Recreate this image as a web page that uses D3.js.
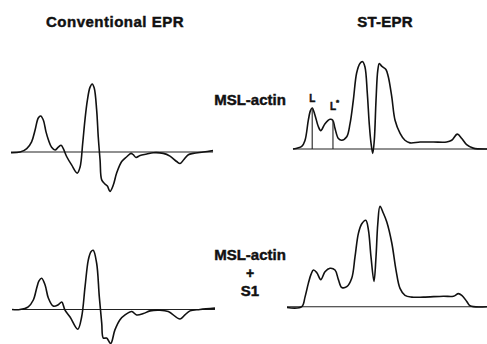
<!DOCTYPE html>
<html>
<head>
<meta charset="utf-8">
<script src="https://cdn.jsdelivr.net/npm/d3@7"></script>
<style>
  body { margin: 0; background: #fff; }
  text { font-family: "Liberation Sans", Arial, sans-serif; font-weight: bold; fill: #111; stroke: #111; stroke-width: 0.45px; }
</style>
</head>
<body>
<script>
((() => {

// field position (0-100, arbitrary units) and relative signal
let convTopField = [0, 4.5, 7.8, 10.2, 11.9, 13.5, 14.7, 16, 17.3, 18.5, 20.1, 21.8, 23.4, 24.8, 25.9, 27.6, 30, 32.8, 34.2, 35.5, 36.6, 37.8, 39.1, 40.2, 41.2, 42.4, 43.2, 44.1, 44.9, 46.5, 47.7, 49, 50.6, 52.3, 54.8, 57.3, 59.4, 60.5, 61.9, 63.9, 67.2, 70.4, 75.4, 78.7, 82, 83.7, 85.6, 87.8, 90.2, 95.2, 100];
let convTopSignal = [-1, 0, 5, 15, 32, 50, 53, 47, 30, 18, 7, 3, 7, 10, 5, -7, -19, -31, -22, 13, 47, 76, 95, 100, 94, 62, 22, -12, -41, -47, -50, -58, -49, -31, -14, -7, -2, -4, -8, -5, -3, -1, -2, -6, -14, -17, -11, -4, -2, 0, 2];

let convBotField = [0, 3.9, 8, 10.5, 12.2, 13.3, 14.6, 16.3, 17.9, 20.3, 22.8, 24.5, 26.1, 28.6, 32.4, 34.3, 36, 37.6, 38.9, 40, 41.7, 43, 44.2, 45, 46.6, 48.6, 50.7, 53.2, 55.7, 59, 61.4, 64.7, 68, 72.9, 77, 82.8, 85.2, 87.7, 92.6, 100];
let convBotSignal = [0, 0, 4, 14, 32, 42, 46, 36, 17, 5, 7, 11, -1, -11, -29, -11, 34, 73, 85, 87, 68, 19, -20, -42, -42, -50, -30, -15, -8, -3, -8, -6, -2, -1, -3, -14, -8, -2, 0, 2];

let stTopField = [0, 4.5, 6.2, 7.9, 9, 9.9, 11.3, 13, 14.3, 16.5, 19.1, 20.5, 21.6, 23.4, 25.1, 27.7, 29.4, 31.1, 32.8, 34.5, 35.9, 37.1, 38.3, 39.3, 40.2, 41.1, 41.9, 42.8, 43.7, 44.5, 45.7, 47.9, 49.1, 50.9, 52.6, 55.2, 57.7, 60.3, 65.5, 72.3, 79.2, 81.8, 84.7, 87, 89.5, 92.9, 100];
let stTopSignal = [0, 3, 10, 33, 44, 47, 39, 26, 21, 29, 34, 33, 24, 12, 10, 14, 29, 56, 87, 98, 100, 94, 64, 29, 7, -5, 10, 56, 90, 98, 95, 91, 83, 60, 33, 18, 10, 7, 8, 8, 8, 10, 17, 12, 5, 1, 0];

let stBotField = [0, 7.4, 9, 10.7, 12, 13.2, 14.9, 16.9, 19, 21.5, 24, 25.7, 27.4, 29.9, 32.4, 34, 35.7, 37.4, 39.4, 40.7, 42, 43.5, 44.5, 45.4, 46.5, 48.2, 49.9, 52.4, 54.5, 56.5, 59, 62.4, 68.2, 78.2, 83.2, 85.7, 87.4, 89.9, 91.5, 100];
let stBotSignal = [-1, 0, 11, 27, 37, 42, 39, 31, 40, 44, 42, 31, 22, 23, 33, 57, 84, 95, 99, 88, 57, 29, 57, 95, 115, 107, 97, 73, 42, 21, 13, 11, 11, 12, 12, 15, 13, 6, 1, 0];

// marked peaks on the MSL-actin ST-EPR spectrum
let peakNames = ['L', 'L*'];
let peakField = [9.9, 20.6];

let headings = ['Conventional EPR', 'ST-EPR'];
let sampleTop = ['MSL-actin'];
let sampleBot = ['MSL-actin', '+', 'S1'];

let width = 487, height = 344;

let svg = d3.select('body')
  .append('svg')
    .attr('width', width)
    .attr('height', height);

function zip(f, s) {
  return f.map((d, i) => ({x: d, y: s[i]}));
}

// each panel: pixel extent of its baseline and its scale for the signal
function drawPanel(field, signal, x0, x1, base, pxPerUnit) {
  let x = d3.scaleLinear().domain([0, 100]).range([x0, x1]);
  let y = d3.scaleLinear().domain([0, 100]).range([base, base - 100 * pxPerUnit]);

  let g = svg.append('g');

  g.append('line')
    .attr('x1', x(0)).attr('x2', x(100))
    .attr('y1', y(0)).attr('y2', y(0))
    .attr('stroke', '#222')
    .attr('stroke-width', 1.1);

  let line = d3.line()
    .x(d => x(d.x))
    .y(d => y(d.y))
    .curve(d3.curveCatmullRom.alpha(0.5));

  g.append('path')
    .datum(zip(field, signal))
    .attr('d', line)
    .attr('fill', 'none')
    .attr('stroke', '#111')
    .attr('stroke-width', 1.6)
    .attr('stroke-linejoin', 'round');

  return {x: x, y: y, g: g};
}

drawPanel(convTopField, convTopSignal, 11, 213, 152, 0.68);
drawPanel(convBotField, convBotSignal, 12, 215, 309.5, 0.68);
let stTop = drawPanel(stTopField, stTopSignal, 293, 487, 149, 0.873);
drawPanel(stBotField, stBotSignal, 287, 487, 306.7, 0.873);

// L and L* markers: vertical line from the curve down to the baseline
let interp = d3.scaleLinear().domain(stTopField).range(stTopSignal);
peakField.forEach(f => {
  stTop.g.append('line')
    .attr('x1', stTop.x(f)).attr('x2', stTop.x(f))
    .attr('y1', stTop.y(interp(f))).attr('y2', stTop.y(0))
    .attr('stroke', '#222')
    .attr('stroke-width', 1.1);
});

// peak labels
svg.append('text')
  .attr('x', stTop.x(peakField[0]))
  .attr('y', 102)
  .attr('text-anchor', 'middle')
  .style('font-size', '10px')
  .text(peakNames[0]);

let lstar = svg.append('text')
  .attr('x', stTop.x(peakField[1]) - 3)
  .attr('y', 110)
  .style('font-size', '10px');
lstar.append('tspan').text(peakNames[1][0]);
lstar.append('tspan')
  .attr('dy', -5)
  .style('font-size', '8px')
  .text(peakNames[1].slice(1));

// column headings
svg.selectAll('text.head')
  .data(headings)
  .enter()
  .append('text')
    .attr('class', 'head')
    .attr('x', (d, i) => i === 0 ? 115 : 385)
    .attr('y', 27)
    .attr('text-anchor', 'middle')
    .style('font-size', '15px')
    .style('letter-spacing', (d, i) => i === 0 ? '0.5px' : '0.2px')
    .text(d => d);

// sample labels
svg.selectAll('text.sampleTop')
  .data(sampleTop)
  .enter()
  .append('text')
    .attr('class', 'sampleTop')
    .attr('x', 250)
    .attr('y', 105)
    .attr('text-anchor', 'middle')
    .style('font-size', '15px')
    .text(d => d);

svg.selectAll('text.sampleBot')
  .data(sampleBot)
  .enter()
  .append('text')
    .attr('class', 'sampleBot')
    .attr('x', 250)
    .attr('y', (d, i) => [260, 278, 296][i])
    .attr('text-anchor', 'middle')
    .style('font-size', (d, i) => i === 1 ? '14px' : '15px')
    .text(d => d);

})());
</script>
</body>
</html>
